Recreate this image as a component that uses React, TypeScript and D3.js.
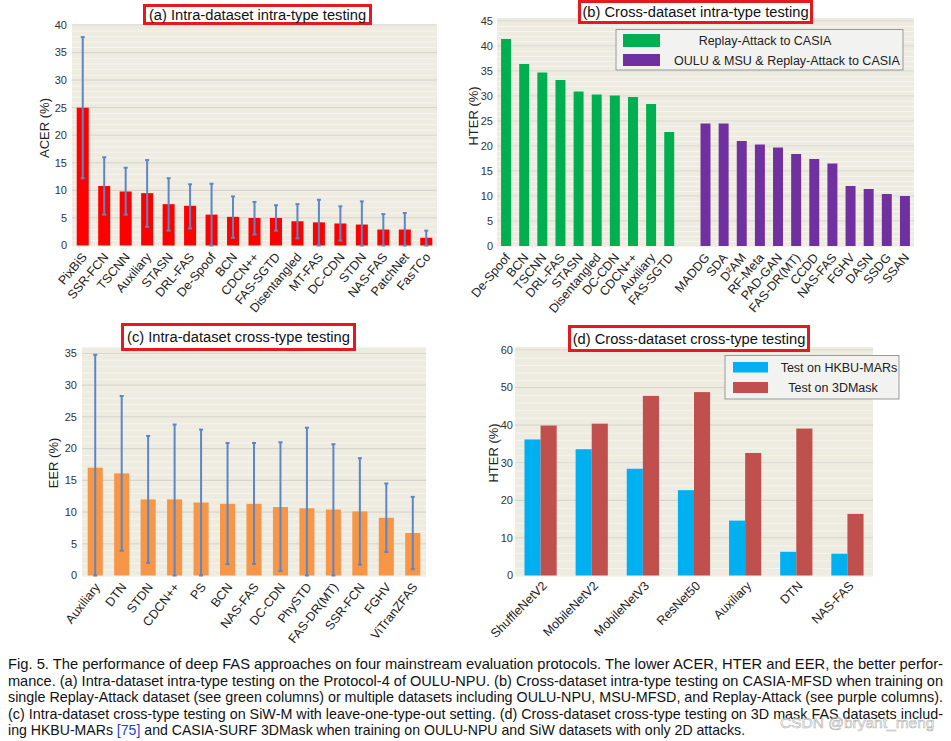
import React from "react";
import * as d3 from "d3";

// ---------- DATA ----------
const acerNames = ["PixBiS","SSR-FCN","TSCNN","Auxiliary","STASN","DRL-FAS","De-Spoof","BCN","CDCN++","FAS-SGTD","Disentangled","MT-FAS","DC-CDN","STDN","NAS-FAS","PatchNet","FasTCo"];
const acerMean = [25.0,10.8,9.8,9.5,7.5,7.2,5.6,5.2,5.0,5.0,4.4,4.2,4.0,3.8,2.9,2.9,1.4];
const acerLow = [12.2,5.6,5.6,3.4,2.7,3.1,0,1.4,2.0,2.7,1.3,0,0.9,0,0,0,0];
const acerHigh = [37.8,16.0,14.1,15.5,12.2,11.1,11.2,8.9,7.9,7.3,7.5,8.3,7.1,8.0,5.7,5.9,2.7];
const acerTicks = [0,5,10,15,20,25,30,35,40];

const replayNames = ["De-Spoof","BCN","TSCNN","DRL-FAS","STASN","Disentangled","DC-CDN","CDCN++","Auxiliary","FAS-SGTD"];
const replayHter = [41.4,36.4,34.7,33.2,30.9,30.3,30.1,29.8,28.4,22.8];
const multiNames = ["MADDG","SDA","D²AM","RF-Meta","PAD-GAN","FAS-DR(MT)","CCDD","NAS-FAS","FGHV","DASN","SSDG","SSAN"];
const multiHter = [24.5,24.5,21.0,20.3,19.7,18.4,17.4,16.5,12.0,11.4,10.4,10.0];
const hterTicksB = [0,5,10,15,20,25,30,35,40,45];
const legendB = ["Replay-Attack to CASIA","OULU & MSU & Replay-Attack to CASIA"];

const eerNames = ["Auxiliary","DTN","STDN","CDCN++","PS","BCN","NAS-FAS","DC-CDN","PhySTD","FAS-DR(MT)","SSR-FCN","FGHV","ViTranZFAS"];
const eerMean = [17.0,16.1,12.0,12.0,11.5,11.3,11.3,10.8,10.6,10.4,10.1,9.1,6.7];
const eerLow = [0,3.9,2.0,0,0,1.8,1.8,0.7,0,0,1.7,3.7,1.0];
const eerHigh = [34.8,28.3,22.0,23.8,23.0,20.9,20.9,21.0,23.3,20.7,18.5,14.5,12.4];
const eerTicks = [0,5,10,15,20,25,30,35];

const maskNames = ["ShuffleNetV2","MobileNetV2","MobileNetV3","ResNet50","Auxiliary","DTN","NAS-FAS"];
const hkbuHter = [36.2,33.6,28.4,22.7,14.6,6.3,5.8];
const mask3dHter = [39.9,40.4,47.8,48.8,32.6,39.1,16.4];
const hterTicksD = [0,10,20,30,40,50,60];
const legendD = ["Test on HKBU-MARs","Test on 3DMask"];

const titles = [
  "(a) Intra-dataset intra-type testing",
  "(b) Cross-dataset intra-type testing",
  "(c) Intra-dataset cross-type testing",
  "(d) Cross-dataset cross-type testing",
];

const captionLines = [
  "Fig. 5. The performance of deep FAS approaches on four mainstream evaluation protocols. The lower ACER, HTER and EER, the better perfor-",
  "mance. (a) Intra-dataset intra-type testing on the Protocol-4 of OULU-NPU. (b) Cross-dataset intra-type testing on CASIA-MFSD when training on",
  "single Replay-Attack dataset (see green columns) or multiple datasets including OULU-NPU, MSU-MFSD, and Replay-Attack (see purple columns).",
  "(c) Intra-dataset cross-type testing on SiW-M with leave-one-type-out setting. (d) Cross-dataset cross-type testing on 3D mask FAS datasets includ-",
];
const captionLast = ["ing HKBU-MARs ", "[75]", " and CASIA-SURF 3DMask when training on OULU-NPU and SiW datasets with only 2D attacks."];
const watermark = "CSDN @bryant_meng";

// ---------- STYLE ----------
const FONT = "'Liberation Sans', Arial, Helvetica, sans-serif";
const BG = "#EEECE1";
const GRID = "#D8D6CC";
const MINOR = "#F5F4EE";
const ERR = "#5B87C5";
const TITLE_RED = "#E5191E";

function Background({ x0, x1, yTop, yBottom, y, minorStep, maxV }) {
  const minors = d3.range(0, maxV + 0.001, minorStep);
  return (
    <g>
      <rect x={x0} y={yTop} width={x1 - x0} height={yBottom - yTop} fill={BG} />
      {minors.map((v, i) => (
        <line key={"m" + i} x1={x0} x2={x1} y1={y(v) + 0.5} y2={y(v) + 0.5} stroke={MINOR} strokeWidth={1} />
      ))}
    </g>
  );
}

function YAxis({ x0, x1, y, ticks, labelX }) {
  return (
    <g>
      {ticks.map((t) => (
        <g key={t}>
          {t > 0 && <line x1={x0} x2={x1} y1={y(t)} y2={y(t)} stroke={GRID} strokeWidth={1.2} />}
          <text x={labelX} y={y(t)} dy="0.35em" textAnchor="end" fontSize={11} fill="#333" fontFamily={FONT}>{t}</text>
        </g>
      ))}
    </g>
  );
}

function Title({ x, y, w, h, text }) {
  return (
    <g>
      <rect x={x} y={y} width={w} height={h} fill="#fff" stroke={TITLE_RED} strokeWidth={3} />
      <text x={x + w / 2} y={y + h / 2} dy="0.36em" textAnchor="middle" fontSize={14.7} fill="#111" fontFamily={FONT}>{text}</text>
    </g>
  );
}

function YLabel({ x, y, text }) {
  return (
    <text transform={`translate(${x},${y}) rotate(-90)`} dy="0.35em" textAnchor="middle" fontSize={13} fill="#222" fontFamily={FONT}>{text}</text>
  );
}

function CatLabel({ x, y, text, angle }) {
  return (
    <text transform={`translate(${x},${y}) rotate(${-angle})`} dy="0.35em" textAnchor="end" fontSize={12.5} fill="#222" fontFamily={FONT}>{text}</text>
  );
}

function ErrBar({ x, yLo, yHi }) {
  return (
    <g stroke={ERR} strokeWidth={2}>
      <line x1={x} x2={x} y1={yLo} y2={yHi} />
      <line x1={x - 2} x2={x + 2} y1={yHi} y2={yHi} />
      <line x1={x - 2} x2={x + 2} y1={yLo} y2={yLo} />
    </g>
  );
}

function PanelA() {
  const x0 = 72, x1 = 437, yb = 245.5;
  const x = d3.scaleBand().domain(acerNames).range([x0, x1]).paddingInner(0.44).paddingOuter(0.22);
  const y = d3.scaleLinear().domain([0, 40]).range([yb, 25]);
  return (
    <g>
      <Background x0={x0} x1={x1} yTop={24} yBottom={yb + 1} y={y} minorStep={1} maxV={40} />
      <YAxis x0={x0} x1={x1} y={y} ticks={acerTicks} labelX={67} />
      {acerNames.map((n, i) => (
        <rect key={n} x={x(n)} y={y(acerMean[i])} width={x.bandwidth()} height={yb - y(acerMean[i])} fill="#FF0000" />
      ))}
      {acerNames.map((n, i) => (
        <ErrBar key={"e" + n} x={x(n) + x.bandwidth() / 2} yLo={y(acerLow[i])} yHi={y(acerHigh[i])} />
      ))}
      {acerNames.map((n) => (
        <CatLabel key={"l" + n} x={x(n) + x.bandwidth() / 2 + 1.5} y={yb + 9} text={n} angle={50} />
      ))}
      <YLabel x={44} y={128} text="ACER (%)" />
      <Title x={144.5} y={5.5} w={226} h={18} text={titles[0]} />
    </g>
  );
}

function PanelB() {
  const x0 = 497, x1 = 914, yb = 246;
  const domain = [...replayNames, "__gap__", ...multiNames];
  const x = d3.scaleBand().domain(domain).range([x0, x1]).paddingInner(0.45).paddingOuter(0.225);
  const y = d3.scaleLinear().domain([0, 45]).range([yb, 21]);
  const bar = (names, vals, color) =>
    names.map((n, i) => (
      <rect key={n + color} x={x(n)} y={y(vals[i])} width={x.bandwidth()} height={yb - y(vals[i])} fill={color} />
    ));
  const labels = [...replayNames, ...multiNames];
  return (
    <g>
      <Background x0={x0} x1={x1} yTop={18} yBottom={yb + 1} y={y} minorStep={1} maxV={45} />
      <YAxis x0={x0} x1={x1} y={y} ticks={hterTicksB} labelX={493} />
      {bar(replayNames, replayHter, "#00B050")}
      {bar(multiNames, multiHter, "#7030A0")}
      {labels.map((n) => (
        <CatLabel key={"l" + n} x={x(n) + x.bandwidth() / 2 + 1.5} y={yb + 9} text={n} angle={50} />
      ))}
      <YLabel x={473} y={116} text="HTER (%)" />
      <g>
        <rect x={616} y={29.5} width={287} height={40.5} fill="#F2F2F0" stroke="#999" strokeWidth={1} />
        <rect x={623} y={34} width={37} height={13} fill="#00B050" />
        <rect x={623} y={54} width={37} height={12} fill="#7030A0" />
        <text x={765} y={41} dy="0.35em" textAnchor="middle" fontSize={12.5} fill="#222" fontFamily={FONT}>{legendB[0]}</text>
        <text x={787} y={60.5} dy="0.35em" textAnchor="middle" fontSize={12.5} fill="#222" fontFamily={FONT}>{legendB[1]}</text>
      </g>
      <Title x={579.5} y={1.5} w={232} h={21} text={titles[1]} />
    </g>
  );
}

function PanelC() {
  const x0 = 82, x1 = 426, yb = 575.5;
  const x = d3.scaleBand().domain(eerNames).range([x0, x1]).paddingInner(0.43).paddingOuter(0.215);
  const y = d3.scaleLinear().domain([0, 35]).range([yb, 353.5]);
  return (
    <g>
      <Background x0={x0} x1={x1} yTop={347} yBottom={yb + 1} y={y} minorStep={1} maxV={36} />
      <YAxis x0={x0} x1={x1} y={y} ticks={eerTicks} labelX={77} />
      {eerNames.map((n, i) => (
        <rect key={n} x={x(n)} y={y(eerMean[i])} width={x.bandwidth()} height={yb - y(eerMean[i])} fill="#F79646" />
      ))}
      {eerNames.map((n, i) => (
        <ErrBar key={"e" + n} x={x(n) + x.bandwidth() / 2} yLo={y(eerLow[i])} yHi={y(eerHigh[i])} />
      ))}
      {eerNames.map((n) => (
        <CatLabel key={"l" + n} x={x(n) + x.bandwidth() / 2 + 2} y={yb + 9} text={n} angle={52} />
      ))}
      <YLabel x={53} y={463} text="EER (%)" />
      <Title x={122.5} y={324.5} w={232} h={25} text={titles[2]} />
    </g>
  );
}

function PanelD() {
  const x0 = 515, x1 = 873, yb = 575.5;
  const x = d3.scaleBand().domain(maskNames).range([x0, x1]).paddingInner(0.37).paddingOuter(0.185);
  const xs = d3.scaleBand().domain(["hkbu", "mask"]).range([0, x.bandwidth()]);
  const y = d3.scaleLinear().domain([0, 60]).range([yb, 350]);
  return (
    <g>
      <Background x0={x0} x1={x1} yTop={347} yBottom={yb + 1} y={y} minorStep={2} maxV={60} />
      <YAxis x0={x0} x1={x1} y={y} ticks={hterTicksD} labelX={513} />
      {maskNames.map((n, i) => (
        <g key={n}>
          <rect x={x(n) + xs("hkbu")} y={y(hkbuHter[i])} width={xs.bandwidth()} height={yb - y(hkbuHter[i])} fill="#00B0F0" />
          <rect x={x(n) + xs("mask")} y={y(mask3dHter[i])} width={xs.bandwidth()} height={yb - y(mask3dHter[i])} fill="#C0504D" />
        </g>
      ))}
      {maskNames.map((n) => (
        <CatLabel key={"l" + n} x={x(n) + x.bandwidth() / 2 + 4} y={yb + 8} text={n} angle={45} />
      ))}
      <YLabel x={493} y={453} text="HTER (%)" />
      <g>
        <rect x={725} y={355.5} width={174} height={43.5} fill="#F2F2F0" stroke="#999" strokeWidth={1} />
        <rect x={733} y={362} width={35} height={10.5} fill="#00B0F0" />
        <rect x={733} y={382} width={35} height={11} fill="#C0504D" />
        <text x={839} y={367.5} dy="0.35em" textAnchor="middle" fontSize={12.5} fill="#222" fontFamily={FONT}>{legendD[0]}</text>
        <text x={833} y={388} dy="0.35em" textAnchor="middle" fontSize={12.5} fill="#222" fontFamily={FONT}>{legendD[1]}</text>
      </g>
      <Title x={569.5} y={326.5} w={239} h={24} text={titles[3]} />
    </g>
  );
}

function Caption() {
  const baselines = [668.5, 685.5, 702, 718.5, 735];
  return (
    <g fontFamily={FONT} fontSize={14.1} fill="#111">
      {captionLines.map((l, i) => (
        <text key={i} x={8} y={baselines[i]} textLength={935} lengthAdjust="spacingAndGlyphs">{l}</text>
      ))}
      <text x={8} y={baselines[4]}>
        <tspan>{captionLast[0]}</tspan>
        <tspan fill="#2A3FD0">{captionLast[1]}</tspan>
        <tspan>{captionLast[2]}</tspan>
      </text>
      <text x={780} y={728} fontSize={15.5} fill="#ffffff" fillOpacity={0.55} stroke="#9a9a9a" strokeWidth={0.6} strokeOpacity={0.8}>{watermark}</text>
    </g>
  );
}

export default function App() {
  return (
    <svg width={951} height={741} viewBox="0 0 951 741" style={{ position: "absolute", left: 0, top: 0, background: "#fff" }}>
      <rect x={0} y={0} width={951} height={741} fill="#fff" />
      <PanelA />
      <PanelB />
      <PanelC />
      <PanelD />
      <Caption />
    </svg>
  );
}
